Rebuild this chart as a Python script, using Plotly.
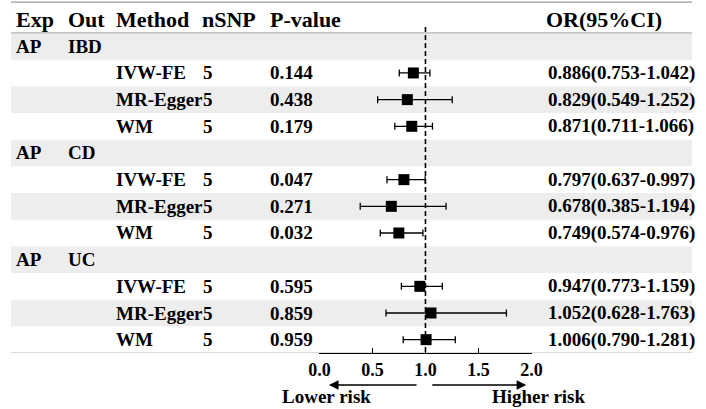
import plotly.graph_objects as go

# table content
exposures = ["AP", "AP", "AP"]
outcomes = ["IBD", "CD", "UC"]
methods = ["IVW-FE", "MR-Egger", "WM"]
nsnp = [5, 5, 5, 5, 5, 5, 5, 5, 5]
pvals = ["0.144", "0.438", "0.179", "0.047", "0.271", "0.032", "0.595", "0.859", "0.959"]
or_vals = [0.886, 0.829, 0.871, 0.797, 0.678, 0.749, 0.947, 1.052, 1.006]
or_low = [0.753, 0.549, 0.711, 0.637, 0.385, 0.574, 0.773, 0.628, 0.790]
or_high = [1.042, 1.252, 1.066, 0.997, 1.194, 0.976, 1.159, 1.763, 1.281]
headers = ["Exp", "Out", "Method", "nSNP", "P-value", "OR(95%CI)"]
xticks = [0, 0.5, 1, 1.5, 2]

W, H = 706, 409
FONT = "Liberation Serif"
n_rows = 4 * len(outcomes)

# row index of each result line (header row of each group is 4*g)
rows = []
for g in range(len(outcomes)):
    for m in range(len(methods)):
        rows.append(4 * g + m + 1)

fig = go.Figure()

fig.add_trace(go.Scatter(
    x=or_vals, y=rows, mode="markers",
    marker=dict(symbol="square", size=11, color="black"),
    error_x=dict(type="data", symmetric=False,
                 array=[h - o for h, o in zip(or_high, or_vals)],
                 arrayminus=[o - l for o, l in zip(or_vals, or_low)],
                 color="black", thickness=1.3, width=3.5),
    showlegend=False, hoverinfo="skip", cliponaxis=False,
))

# alternating grey bands
shapes = []
for r in range(0, n_rows, 2):
    shapes.append(dict(type="rect", xref="paper", yref="y", x0=0, x1=703 / W,
                       y0=r - 0.5, y1=r + 0.5, fillcolor="#EDEDED",
                       line=dict(width=0), layer="below"))
# rules
for yy, col in [(-1.66, "#9A9A9A"), (-0.5, "#B5B5B5"), (n_rows - 0.5, "#B5B5B5")]:
    shapes.append(dict(type="line", xref="paper", yref="y", x0=0, x1=703 / W,
                       y0=yy, y1=yy, line=dict(color=col, width=1.2), layer="below"))
# reference line at OR = 1
shapes.append(dict(type="line", xref="x", yref="y", x0=1, x1=1, y0=-0.72, y1=n_rows - 0.5,
                   line=dict(color="black", width=1.6, dash="5px,3px")))

ann = []
def txt(x_px, y, s, size=19):
    ann.append(dict(xref="paper", yref="y", x=x_px / W, y=y, text=s, showarrow=False,
                    xanchor="left", yanchor="middle",
                    font=dict(family=FONT, size=size, color="black", weight="bold")))

col_x = [3, 57, 106, 195, 265, 550]
for cx, h in zip(col_x, headers):
    txt(cx, -1, h, size=22)

for g in range(len(outcomes)):
    txt(col_x[0], 4 * g, exposures[g])
    txt(col_x[1], 4 * g, outcomes[g])

for i, r in enumerate(rows):
    txt(col_x[2], r, methods[i % 3])
    txt(col_x[3] + 1, r, str(nsnp[i]))
    txt(col_x[4], r, pvals[i])
    txt(552, r, f"{or_vals[i]:.3f}({or_low[i]:.3f}-{or_high[i]:.3f})")

# risk arrows under the axis
arrow_y = (H - 385) / H
ann.append(dict(xref="x", yref="paper", x=0.09, y=arrow_y, axref="x", ax=0.93, ayref="pixel", ay=0,
                showarrow=True, arrowhead=2, arrowsize=1.2, arrowwidth=1.6, arrowcolor="black", text=""))
ann.append(dict(xref="x", yref="paper", x=1.95, y=arrow_y, axref="x", ax=1.05, ayref="pixel", ay=0,
                showarrow=True, arrowhead=2, arrowsize=1.2, arrowwidth=1.6, arrowcolor="black", text=""))
for xx, s in [(326, "Lower risk"), (544.5, "Higher risk")]:
    ann.append(dict(xref="paper", yref="paper", x=xx / W, y=(H - 396) / H, text=s, showarrow=False,
                    xanchor="center", yanchor="middle",
                    font=dict(family=FONT, size=19, color="black", weight="bold")))

fig.update_layout(
    width=W, height=H, margin=dict(l=0, r=0, t=0, b=0),
    paper_bgcolor="white", plot_bgcolor="rgba(0,0,0,0)",
    shapes=shapes, annotations=ann,
    xaxis=dict(range=[0, 2], domain=[318.3 / W, 537.3 / W], tickvals=xticks,
               tickformat=".1f", showline=True, linecolor="black", linewidth=1.3,
               ticks="inside", ticklen=5, tickcolor="black", tickwidth=1.3,
               showgrid=False, zeroline=False,
               tickfont=dict(family=FONT, size=18, color="black", weight="bold")),
    yaxis=dict(range=[n_rows - 0.5, -1.736], domain=[(H - 353) / H, 1], visible=False,
               showgrid=False, zeroline=False),
)

# page body has an 8px default margin; drop it so the figure sits at the window corner
fig.write_html("out.html", config={"displayModeBar": False},
               post_script="document.body.style.margin='0';")
